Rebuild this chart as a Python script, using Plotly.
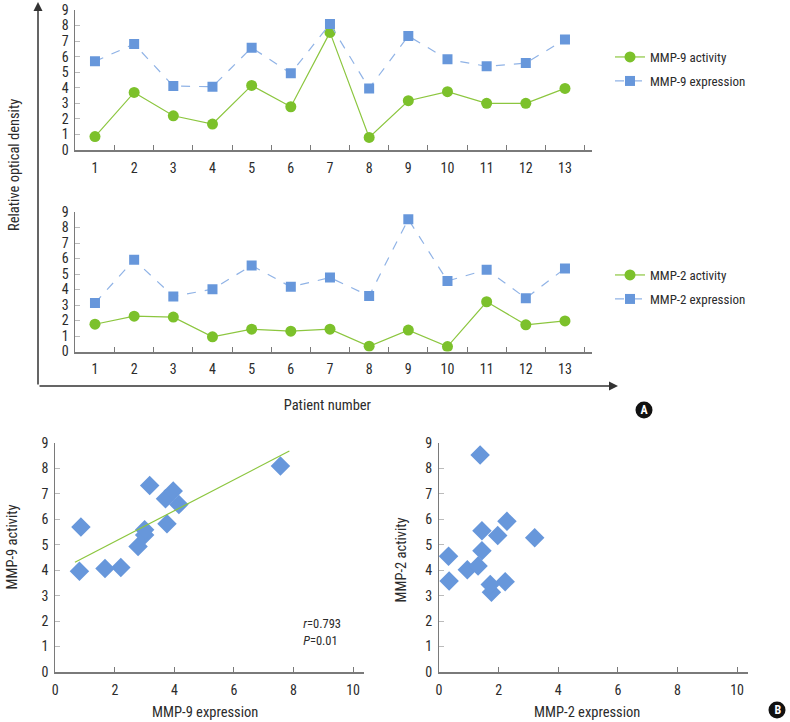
import numpy as np
import plotly.graph_objects as go

W, H = 790, 722

patients = [str(i) for i in range(1, 14)]
mmp9_activity = [0.86, 3.70, 2.20, 1.67, 4.15, 2.78, 7.56, 0.81, 3.17, 3.75, 3.00, 3.00, 3.96]
mmp9_expression = [5.70, 6.81, 4.11, 4.07, 6.58, 4.93, 8.10, 3.96, 7.33, 5.83, 5.38, 5.59, 7.11]
mmp2_activity = [1.76, 2.28, 2.22, 0.95, 1.44, 1.31, 1.44, 0.34, 1.38, 0.32, 3.21, 1.72, 1.97]
mmp2_expression = [3.13, 5.92, 3.55, 4.02, 5.55, 4.17, 4.77, 3.58, 8.53, 4.55, 5.28, 3.44, 5.36]
y_ticks = list(range(0, 10))
x_ticks_scatter = [0, 2, 4, 6, 8, 10]

GREEN = "#7cc12b"
GREEN_LINE = "#8cc63f"
BLUE = "#6797db"
BLUE_LINE = "#90b3e6"
AXIS = "#7a7a7a"
TXT = "#2b2b2b"
FONT = "Roboto, Arial"


def px(x):
    return x / W


def py(y):
    return 1 - y / H


fig = go.Figure()

# Top panel
fig.add_trace(go.Scatter(x=patients, y=mmp9_activity, mode="lines+markers", name="MMP-9 activity",
                         line=dict(color=GREEN_LINE, width=1.2), marker=dict(color=GREEN, size=11, symbol="circle"),
                         xaxis="x", yaxis="y", legend="legend"))
fig.add_trace(go.Scatter(x=patients, y=mmp9_expression, mode="lines+markers", name="MMP-9 expression",
                         line=dict(color=BLUE_LINE, width=1.2, dash="dash"), marker=dict(color=BLUE, size=10, symbol="square"),
                         xaxis="x", yaxis="y", legend="legend2"))
# Middle panel
fig.add_trace(go.Scatter(x=patients, y=mmp2_activity, mode="lines+markers", name="MMP-2 activity",
                         line=dict(color=GREEN_LINE, width=1.2), marker=dict(color=GREEN, size=11, symbol="circle"),
                         xaxis="x2", yaxis="y2", legend="legend3"))
fig.add_trace(go.Scatter(x=patients, y=mmp2_expression, mode="lines+markers", name="MMP-2 expression",
                         line=dict(color=BLUE_LINE, width=1.2, dash="dash"), marker=dict(color=BLUE, size=10, symbol="square"),
                         xaxis="x2", yaxis="y2", legend="legend4"))

# Scatter B left with fit
fig.add_trace(go.Scatter(x=mmp9_activity, y=mmp9_expression, mode="markers", showlegend=False,
                         marker=dict(color=BLUE, size=15, symbol="diamond"), xaxis="x3", yaxis="y3"))
slope, intercept = np.polyfit(mmp9_activity, mmp9_expression, 1)
fx = np.array([min(mmp9_activity) - 0.15, max(mmp9_activity) + 0.3])
fig.add_trace(go.Scatter(x=fx, y=slope * fx + intercept, mode="lines", showlegend=False,
                         line=dict(color=GREEN_LINE, width=1.2), xaxis="x3", yaxis="y3"))
# Scatter B right
fig.add_trace(go.Scatter(x=mmp2_activity, y=mmp2_expression, mode="markers", showlegend=False,
                         marker=dict(color=BLUE, size=15, symbol="diamond"), xaxis="x4", yaxis="y4"))

tickfont = dict(family=FONT, size=14, color=TXT)

cat_x = dict(type="category", range=[-0.5, 12.7], tickson="boundaries", ticks="inside", ticklen=5,
             tickcolor=AXIS, showline=True, linecolor=AXIS, linewidth=1.5, showgrid=False, zeroline=False,
             tickfont=tickfont, automargin=False, ticklabelstandoff=4)
num_y = dict(range=[0, 9], tickvals=y_ticks, ticks="inside", ticklen=5, tickcolor="#bbbbbb",
             showline=True, linecolor=AXIS, linewidth=1, showgrid=False, zeroline=False,
             tickfont=tickfont, ticklabelstandoff=3, automargin=False)
sc_x = dict(range=[0, 10.35], tickvals=x_ticks_scatter, ticks="inside", ticklen=5, tickcolor=AXIS,
            showline=True, linecolor=AXIS, linewidth=1.5, showgrid=False, zeroline=False, tickfont=tickfont,
            automargin=False, ticklabelstandoff=4)

fig.update_layout(
    template="none",
    width=W, height=H, margin=dict(l=0, r=0, t=0, b=0, autoexpand=False),
    paper_bgcolor="white", plot_bgcolor="white",
    xaxis=dict(cat_x, domain=[px(75.4), px(592.4)], anchor="y"),
    yaxis=dict(num_y, domain=[py(150), py(10)], anchor="x"),
    xaxis2=dict(cat_x, domain=[px(75.4), px(592.4)], anchor="y2"),
    yaxis2=dict(num_y, domain=[py(351.5), py(212)], anchor="x2"),
    xaxis3=dict(sc_x, domain=[px(55.3), px(363.5)], anchor="y3"),
    yaxis3=dict(num_y, domain=[py(672), py(443)], anchor="x3"),
    xaxis4=dict(sc_x, domain=[px(439), px(747.5)], anchor="y4"),
    yaxis4=dict(num_y, domain=[py(672), py(443)], anchor="x4"),
)

legfont = dict(family=FONT, size=13, color=TXT)
for name, yy in [("legend", 57), ("legend2", 81), ("legend3", 275), ("legend4", 299)]:
    fig.layout[name] = dict(x=px(610), y=py(yy), xanchor="left", yanchor="middle", font=legfont,
                            bgcolor="rgba(0,0,0,0)", itemwidth=30)


def label(x, y, text, size=14, angle=0, xanchor="center", color=TXT, family=FONT):
    return dict(x=px(x), y=py(y), text=text, textangle=angle, showarrow=False,
                xanchor=xanchor, yanchor="middle", xref="paper", yref="paper",
                font=dict(family=family, size=size, color=color))


annots = [
    label(14, 165, "Relative optical density", 14.5, -90),
    label(327, 406, "Patient number", 14.5),
    label(205, 712, "MMP-9 expression", 14.5),
    label(587, 712, "MMP-2 expression", 14.5),
    label(12, 547, "MMP-9 activity", 14.5, -90),
    label(401, 560, "MMP-2 activity", 14.5, -90),
    label(299, 623, "<i>r</i>=0.793", 12.5, xanchor="left"),
    label(299, 640, "<i>P</i>=0.01", 12.5, xanchor="left"),
    label(644.5, 410, "<b>A</b>", 12, color="white"),
    label(777.5, 710, "<b>B</b>", 12, color="white"),
    # outer arrows
    dict(x=px(38), y=py(2), ax=0, ay=384, axref="pixel", ayref="pixel", xref="paper", yref="paper",
         showarrow=True, arrowhead=2, arrowsize=1.2, arrowwidth=1.5, arrowcolor="#333", text=""),
    dict(x=px(618), y=py(386), ax=-580, ay=0, axref="pixel", ayref="pixel", xref="paper", yref="paper",
         showarrow=True, arrowhead=2, arrowsize=1.2, arrowwidth=1.5, arrowcolor="#333", text=""),
]
fig.update_layout(annotations=annots)

r = 8.5
shapes = []
for cx, cy in [(644, 410), (777, 710)]:
    shapes.append(dict(type="circle", xref="paper", yref="paper", x0=px(cx - r), x1=px(cx + r),
                       y0=py(cy + r), y1=py(cy - r), fillcolor="#111", line=dict(width=0), layer="below"))
fig.update_layout(shapes=shapes)

post = (
    "document.body.style.margin='0';"
    "var st=document.createElement('style');"
    "st.textContent='.main-svg text{font-stretch:75%;}';"
    "document.head.appendChild(st);"
    "Plotly.redraw(document.getElementById('{plot_id}'));"
)
fig.write_html("out.html", post_script=post, config={"displayModeBar": False})
